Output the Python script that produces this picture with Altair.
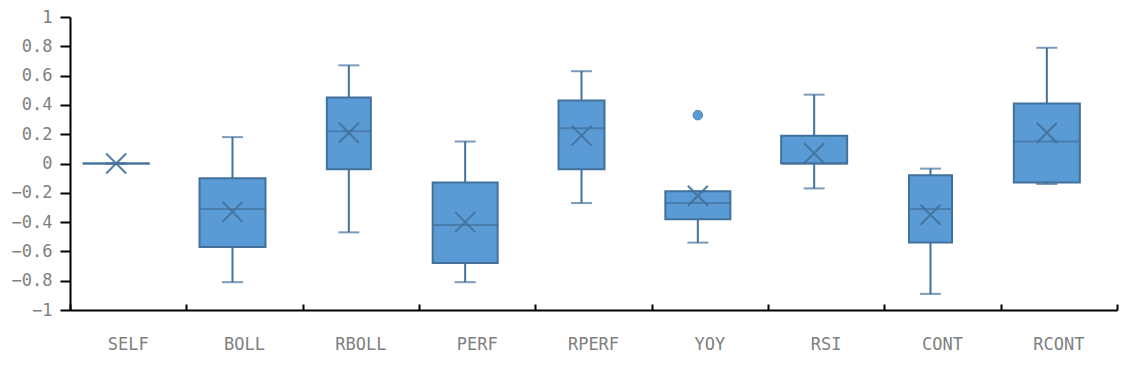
import altair as alt
import pandas as pd

# ---- data ----
categories = ["SELF", "BOLL", "RBOLL", "PERF", "RPERF", "YOY", "RSI", "CONT", "RCONT"]
whisker_low = [0.0, -0.81, -0.47, -0.81, -0.27, -0.54, -0.17, -0.89, -0.14]
q1 = [0.0, -0.57, -0.04, -0.68, -0.04, -0.38, 0.0, -0.54, -0.13]
median = [0.0, -0.31, 0.22, -0.42, 0.24, -0.27, 0.0, -0.31, 0.15]
q3 = [0.0, -0.10, 0.45, -0.13, 0.43, -0.19, 0.19, -0.08, 0.41]
whisker_high = [0.0, 0.18, 0.67, 0.15, 0.63, -0.19, 0.47, -0.035, 0.79]
mean = [0.0, -0.33, 0.21, -0.40, 0.19, -0.22, 0.07, -0.35, 0.21]
outlier_cats = ["YOY"]
outlier_vals = [0.33]
y_ticks = [-1, -0.8, -0.6, -0.4, -0.2, 0, 0.2, 0.4, 0.6, 0.8, 1]

df = pd.DataFrame({
    "cat": categories, "lo": whisker_low, "q1": q1, "med": median,
    "q3": q3, "hi": whisker_high, "mean": mean,
})
df_out = pd.DataFrame({"cat": outlier_cats, "v": outlier_vals})

FILL = "#5B9BD5"
EDGE = "#41719C"
FONT = "DejaVu Sans Mono"
OFF = -12
W, H = 1047, 293

x_scale = alt.Scale(domain=categories, paddingInner=0, paddingOuter=0)

# bottom axis: line + labels
x_bottom = alt.X("cat:N", sort=categories, scale=x_scale, axis=alt.Axis(
    orient="bottom", title=None, labelAngle=0, labelFont=FONT, labelFontSize=17,
    labelColor="#808080", labelPadding=26, ticks=False,
    domainColor="black", domainWidth=2,
))
# top-oriented axis moved down to the bottom: upward ticks between categories
x_ticks = alt.X("cat:N", sort=categories, scale=x_scale, axis=alt.Axis(
    orient="top", offset=-H, title=None, labels=False, domain=False,
    ticks=True, tickBand="extent", tickSize=6, tickColor="black", tickWidth=2,
))
x_plain = alt.X("cat:N", sort=categories, scale=x_scale, axis=None)

y_scale = alt.Scale(domain=[-1, 1], nice=False, zero=False)
y_axis = alt.Axis(
    title=None, values=y_ticks, format="~g", grid=False,
    labelFont=FONT, labelFontSize=17, labelColor="#808080", labelPadding=8,
    tickSize=10, tickColor="black", tickWidth=2,
    domainColor="black", domainWidth=2,
)

box_w = alt.Size("cat:N", scale=alt.Scale(type="ordinal", domain=categories,
                 range=[67, 66, 44, 65, 46, 65, 66, 43, 66]), legend=None)

base = alt.Chart(df)

w_low = base.mark_rule(color=EDGE, strokeWidth=2, xOffset=OFF).encode(
    x=x_plain, y=alt.Y("lo:Q", scale=y_scale, axis=y_axis), y2="q1:Q")
w_high = base.mark_rule(color=EDGE, strokeWidth=2, xOffset=OFF).encode(
    x=x_plain, y=alt.Y("q3:Q", scale=y_scale, axis=y_axis), y2="hi:Q")
cap_low = base.mark_tick(color=EDGE, thickness=2, orient="horizontal",
                         xOffset=OFF, size=21).encode(
    x=x_plain, y=alt.Y("lo:Q", scale=y_scale, axis=y_axis))
cap_high = base.mark_tick(color=EDGE, thickness=2, orient="horizontal",
                          xOffset=OFF, size=21).encode(
    x=x_plain, y=alt.Y("hi:Q", scale=y_scale, axis=y_axis))
box = base.mark_bar(fill=FILL, stroke=EDGE, strokeWidth=2, xOffset=OFF).encode(
    x=x_bottom, y=alt.Y("q1:Q", scale=y_scale, axis=y_axis), y2="q3:Q", size=box_w)
med = base.mark_tick(color=EDGE, thickness=2, orient="horizontal", xOffset=OFF).encode(
    x=x_ticks, y=alt.Y("med:Q", scale=y_scale, axis=y_axis), size=box_w)
mean_pt = base.mark_point(
    shape="M-1,-1L1,1M-1,1L1,-1", filled=False, stroke=EDGE, strokeWidth=2,
    opacity=0.9, size=400, xOffset=OFF,
).encode(x=x_plain, y=alt.Y("mean:Q", scale=y_scale, axis=y_axis))
outl = alt.Chart(df_out).mark_circle(
    fill=FILL, stroke="#4a80bb", strokeWidth=1, opacity=1, size=90, xOffset=OFF,
).encode(x=x_plain, y=alt.Y("v:Q", scale=y_scale, axis=y_axis))

chart = alt.layer(
    w_low, w_high, cap_low, cap_high, box, med, mean_pt, outl
).resolve_axis(x="independent").properties(
    width=W, height=H, background="white",
    autosize=alt.AutoSizeParams(type="none"),
    padding={"left": 62, "top": 9, "right": 3, "bottom": 48},
).configure_view(stroke=None)

chart.save("out.html", embed_options={"renderer": "svg", "actions": False})
